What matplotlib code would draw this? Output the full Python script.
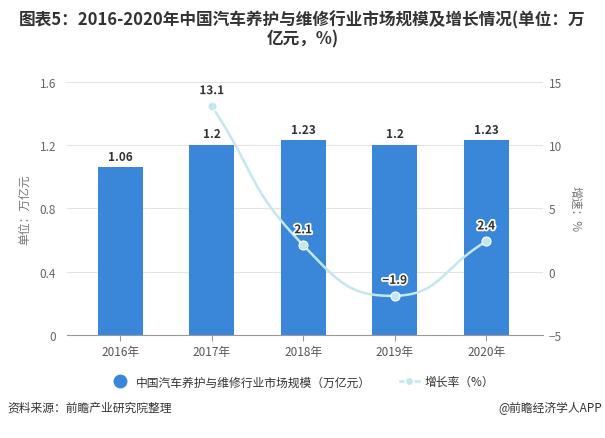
import numpy as np
import matplotlib
matplotlib.use("Agg")
import matplotlib.pyplot as plt
from matplotlib.lines import Line2D
import matplotlib.patheffects as pe

plt.rcParams['font.family'] = ['Noto Sans CJK SC', 'DejaVu Sans']

years = ['2016年', '2017年', '2018年', '2019年', '2020年']
market = [1.06, 1.2, 1.23, 1.2, 1.23]
growth_years_idx = [1, 2, 3, 4]
growth = [13.1, 2.1, -1.9, 2.4]
left_ticks = [0, 0.4, 0.8, 1.2, 1.6]
left_tick_labels = ['0', '0.4', '0.8', '1.2', '1.6']
right_ticks = [-5, 0, 5, 10, 15]

title = '图表5：2016-2020年中国汽车养护与维修行业市场规模及增长情况(单位：万\n亿元，%)'
bar_color = '#3a87d9'
line_color = '#c4e7ef'

fig = plt.figure(figsize=(6.05, 4.39), dpi=100)
ax = fig.add_axes([0.111, 0.2346, 0.7865, 0.5764])
ax2 = ax.twinx()

x = np.arange(len(years))
ax.bar(x, market, width=0.49, color=bar_color, zorder=2)
for xi, v in zip(x, market):
    ax.text(xi, v + 0.03, f'{v:g}', ha='center', va='bottom', fontsize=8.5,
            fontweight='bold', color='#333333', zorder=5)

ax.set_xlim(-0.58, 4.62)
ax.set_ylim(0, 1.6)
ax.set_yticks(left_ticks)
ax.set_yticklabels(left_tick_labels)
ax.set_xticks(x)
ax.set_xticklabels(years)
ax.grid(axis='y', color='#e3e3e3', linewidth=0.8, zorder=0)
ax.set_axisbelow(True)
for s in ['top', 'right', 'left']:
    ax.spines[s].set_visible(False)
ax.spines['bottom'].set_color('#999999')
ax.tick_params(axis='y', length=0, colors='#666666', labelsize=8.5, pad=8)
ax.tick_params(axis='x', length=4, color='#999999', colors='#555555', labelsize=8.5, pad=3)
ax.set_ylabel('单位：万亿元', color='#777777', fontsize=8.5, labelpad=6)

ax2.set_ylim(-5, 15)
ax2.set_yticks(right_ticks)
for s in ['top', 'right', 'left', 'bottom']:
    ax2.spines[s].set_visible(False)
ax2.tick_params(axis='y', length=0, colors='#666666', labelsize=8.5, pad=4)
ax2.set_ylabel('增速：%', color='#777777', fontsize=8.5, rotation=-90, labelpad=14)

# echarts-like smoothing in pixel-ish space
gx = np.array(growth_years_idx, dtype=float)
gy = np.array(growth, dtype=float)
sx, sy = 91.5, 12.65
P = np.column_stack([gx * sx, gy * sy])
n = len(P)
smooth = 0.5
cps = []
for i in range(n):
    prev = P[i - 1] if i > 0 else P[i]
    nxt = P[i + 1] if i < n - 1 else P[i]
    v = (nxt - prev) * smooth
    d0 = np.linalg.norm(P[i] - prev)
    d1 = np.linalg.norm(P[i] - nxt)
    tot = d0 + d1
    if tot == 0:
        c0 = c1 = P[i]
    else:
        c0 = P[i] - v * d0 / tot
        c1 = P[i] + v * d1 / tot
    cps.append((c0, c1))
curve = []
t = np.linspace(0, 1, 60)[:, None]
for i in range(n - 1):
    p0 = P[i]; p1 = cps[i][1]; p2 = cps[i + 1][0]; p3 = P[i + 1]
    seg = (1 - t) ** 3 * p0 + 3 * (1 - t) ** 2 * t * p1 + 3 * (1 - t) * t ** 2 * p2 + t ** 3 * p3
    curve.append(seg)
curve = np.vstack(curve)
ax2.plot(curve[:, 0] / sx, curve[:, 1] / sy, color=line_color, linewidth=1.8, zorder=3,
         solid_capstyle='round')
ax2.plot(gx, gy, 'o', color=line_color, markersize=6.5, markeredgecolor='white',
         markeredgewidth=0.8, zorder=4)
for xi, v in zip(gx, gy):
    ax2.text(xi, v + 0.7, f'{v:g}'.replace('-', '−'), ha='center', va='bottom', fontsize=8.5,
             fontweight='bold', color='#333333', zorder=6,
             path_effects=[pe.withStroke(linewidth=2.5, foreground='white')])

fig.text(0.5, 0.975, title, ha='center', va='top', fontsize=12, fontweight='bold',
         color='#333333', linespacing=1.1)

handles = [
    Line2D([0], [0], marker='o', color='none', markerfacecolor=bar_color,
           markeredgecolor=bar_color, markersize=9),
    Line2D([0], [0], marker='o', color=line_color, markerfacecolor=line_color,
           markeredgecolor='white', markersize=6, linewidth=1.8),
]
fig.legend(handles, ['中国汽车养护与维修行业市场规模（万亿元）', '增长率（%）'],
           loc='center', bbox_to_anchor=(0.5, 0.128), ncol=2, frameon=False,
           fontsize=8.5, handlelength=1.6, columnspacing=2.5, handletextpad=0.5,
           labelcolor='#333333')

fig.text(0.012, 0.07, '资料来源：前瞻产业研究院整理', ha='left', va='center',
         fontsize=8.5, color='#333333')
fig.text(0.995, 0.07, '@前瞻经济学人APP', ha='right', va='center',
         fontsize=8.5, color='#333333')

fig.savefig('out.png', dpi=100, facecolor='white')
